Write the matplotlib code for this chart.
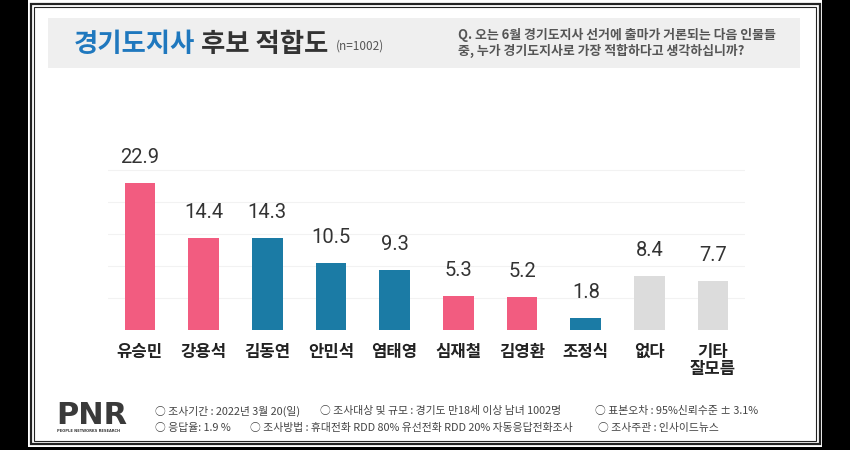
import matplotlib
matplotlib.use("Agg")
import matplotlib.pyplot as plt
from matplotlib.patches import Rectangle

plt.rcParams['font.family'] = ['Noto Sans CJK KR', 'DejaVu Sans']

categories = ['유승민', '강용석', '김동연', '안민석', '염태영', '심재철', '김영환', '조정식', '없다', '기타\n잘모름']
values = [22.9, 14.4, 14.3, 10.5, 9.3, 5.3, 5.2, 1.8, 8.4, 7.7]
groups = ['p', 'p', 'b', 'b', 'b', 'p', 'p', 'b', 'g', 'g']
palette = {'p': '#F25C80', 'b': '#1B7BA5', 'g': '#DCDCDC'}

title_blue = '경기도지사'
title_rest = '후보 적합도'
title_n = '(n=1002)'
question = 'Q. 오는 6월 경기도지사 선거에 출마가 거론되는 다음 인물들\n중, 누가 경기도지사로 가장 적합하다고 생각하십니까?'
footer1 = ['○ 조사기간 : 2022년 3월 20(일)', '○ 조사대상 및 규모 : 경기도 만18세 이상 남녀 1002명', '○ 표본오차 : 95%신뢰수준 ± 3.1%']
footer2 = ['○ 응답율: 1.9 %', '○ 조사방법 : 휴대전화 RDD 80% 유선전화 RDD 20% 자동응답전화조사', '○ 조사주관 : 인사이드뉴스']

W, H = 850, 450
fig = plt.figure(figsize=(8.5, 4.5), dpi=100, facecolor='black')

def fx(x): return x / W
def fy(y): return 1 - y / H

# white page and double border
fig.patches.append(Rectangle((fx(28), fy(447)), fx(822 - 28), (447 - 0) / H, transform=fig.transFigure, facecolor='white', edgecolor='none', zorder=-3))
fig.patches.append(Rectangle((fx(31), fy(444)), fx(820 - 31), (444 - 4) / H, transform=fig.transFigure, facecolor='none', edgecolor='#222222', lw=1.6, zorder=1))
fig.patches.append(Rectangle((fx(34), fy(441)), fx(816 - 34), (441 - 7) / H, transform=fig.transFigure, facecolor='none', edgecolor='#222222', lw=0.8, zorder=1))
# grey title band
fig.patches.append(Rectangle((fx(48), fy(68)), fx(800 - 48), (68 - 18) / H, transform=fig.transFigure, facecolor='#EFEFEF', edgecolor='none', zorder=-2))

# title
t1 = fig.text(fx(74), fy(44), title_blue, color='#1F78BE', fontsize=19, fontweight='bold', va='center', ha='left')
fig.canvas.draw()
r = fig.canvas.get_renderer()
bb = t1.get_window_extent(r)
t2 = fig.text(bb.x1 / W + fx(6), fy(44), title_rest, color='#333333', fontsize=19, fontweight='bold', va='center', ha='left')
bb2 = t2.get_window_extent(r)
fig.text(bb2.x1 / W + fx(7), fy(46), title_n, color='#555555', fontsize=8.5, va='center', ha='left')

fig.text(fx(458), fy(43), question, color='#555555', fontsize=9.3, fontweight='bold', va='center', ha='left', linespacing=1.2)

# chart axes
ax = fig.add_axes([fx(108), fy(330), fx(745 - 108), (330 - 138) / H])
ax.set_facecolor('none')
x = list(range(len(categories)))
colors = [palette[g] for g in groups]
ax.bar(x, values, width=0.48, color=colors, zorder=3)
ax.set_xlim(-0.5, len(categories) - 0.5)
ax.set_ylim(0, 30)
for yv in [5, 10, 15, 20, 25]:
    ax.axhline(yv, color='#F2F2F2', lw=0.8, zorder=1)
for xi, v in zip(x, values):
    ax.text(xi, v + 2.5, f'{v:.1f}', ha='center', va='bottom', fontsize=14.5, color='#333333',
            family=['Roboto', 'DejaVu Sans'])
for s in ax.spines.values():
    s.set_visible(False)
ax.set_yticks([])
ax.set_xticks(x)
ax.set_xticklabels(categories, fontsize=12, fontweight='bold', color='#222222', linespacing=0.95, va='top')
ax.tick_params(axis='x', length=0, pad=9)

# footer logo
fig.text(fx(56), fy(415), 'PNR', color='#3A3A3A', fontsize=22, fontweight='heavy', family=['DejaVu Sans'], va='center', ha='left')
fig.text(fx(57), fy(431), 'PEOPLE NETWORKS RESEARCH', color='#3A3A3A', fontsize=2.6, fontweight='bold', family=['DejaVu Sans'], va='center', ha='left')

for xx, s in zip([155, 320, 595], footer1):
    fig.text(fx(xx), fy(411), s, color='#444444', fontsize=7.8, va='center', ha='left')
for xx, s in zip([155, 250, 598], footer2):
    fig.text(fx(xx), fy(428), s, color='#444444', fontsize=7.8, va='center', ha='left')

fig.savefig('out.png', dpi=100, facecolor='black')
